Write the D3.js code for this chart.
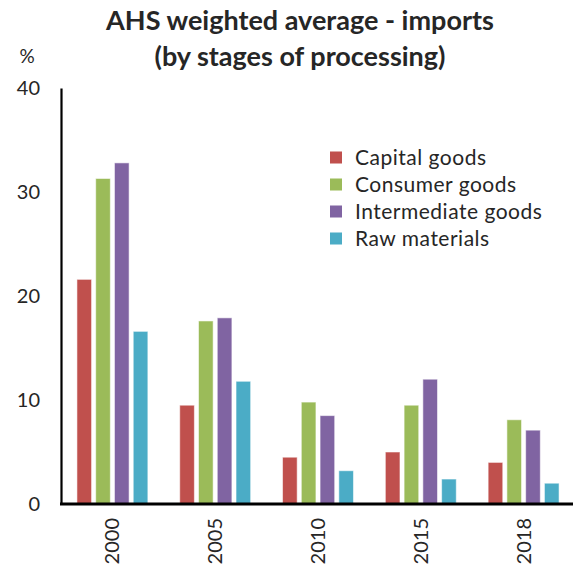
<!DOCTYPE html>
<html>
<head>
<meta charset="utf-8">
<script src="https://cdn.jsdelivr.net/npm/d3@7"></script>
<style>
  html, body { margin: 0; padding: 0; background: #fff; }
  svg { display: block; }
  text { font-family: Lato, "Open Sans", sans-serif; fill: #262626; }
</style>
</head>
<body>
<svg id="chart" width="573" height="571"></svg>
<script>
// Average applied tariff (weighted), imports by stage of processing, %
const years = ["2000", "2005", "2010", "2015", "2018"];
const seriesNames = ["Capital goods", "Consumer goods", "Intermediate goods", "Raw materials"];
const capitalGoods      = [21.6, 9.5, 4.5, 5.0, 4.0];
const consumerGoods     = [31.3, 17.6, 9.8, 9.5, 8.1];
const intermediateGoods = [32.8, 17.9, 8.5, 12.0, 7.1];
const rawMaterials      = [16.6, 11.8, 3.2, 2.4, 2.0];
const yTicks = [0, 10, 20, 30, 40];
const colors = ["#C0504D", "#9BBB59", "#8064A2", "#4BACC6"];

const seriesValues = [capitalGoods, consumerGoods, intermediateGoods, rawMaterials];
const rows = years.map((y, i) => ({
  year: y,
  values: seriesNames.map((s, k) => ({ key: s, value: seriesValues[k][i] }))
}));

const svg = d3.select("#chart");
const margin = { left: 61, right: -2, top: 88, bottom: 67 };
const W = 573, H = 571;

const x0 = d3.scaleBand().domain(years)
  .range([margin.left, W - margin.right]).paddingInner(0.31).paddingOuter(0.155);
const x1 = d3.scaleBand().domain(seriesNames)
  .range([0, x0.bandwidth()]).paddingInner(0.22);
const y = d3.scaleLinear().domain([0, 40]).range([H - margin.bottom, margin.top]);

// bars
const groups = svg.append("g").selectAll("g").data(rows).join("g")
  .attr("transform", d => `translate(${x0(d.year)},0)`);
groups.selectAll("rect").data(d => d.values).join("rect")
  .attr("x", d => x1(d.key))
  .attr("width", x1.bandwidth())
  .attr("y", d => y(d.value))
  .attr("height", d => y(0) - y(d.value))
  .attr("fill", (d, i) => colors[i])
  .attr("stroke", "#ffffff")
  .attr("stroke-opacity", 0.55)
  .attr("stroke-width", 1);

// y axis
const yAxis = d3.axisLeft(y).tickValues(yTicks).tickSize(0).tickPadding(21);
const gy = svg.append("g").attr("transform", `translate(${margin.left},0)`).call(yAxis);
gy.select(".domain").attr("stroke", "#000").attr("stroke-width", 2.2);
gy.selectAll(".tick text").attr("font-size", 20).attr("font-family", "Lato, sans-serif").attr("fill", "#262626");

// x axis
const xAxis = d3.axisBottom(x0).tickSize(0).tickPadding(0);
const gx = svg.append("g").attr("transform", `translate(0,${y(0)})`).call(xAxis);
gx.select(".domain").attr("stroke", "#000").attr("stroke-width", 3)
  .attr("d", `M${margin.left - 1},0H${W}`);
gx.selectAll(".tick text")
  .attr("font-size", 20).attr("font-family", "Lato, sans-serif").attr("fill", "#262626")
  .attr("transform", "rotate(-90)")
  .attr("text-anchor", "end")
  .attr("x", -14).attr("y", 0).attr("dy", "0.35em");

// unit label
svg.append("text").attr("x", 27).attr("y", 63).attr("text-anchor", "middle")
  .attr("font-size", 19).text("%");

// title
const title = svg.append("text").attr("text-anchor", "middle")
  .attr("font-size", 27).attr("font-weight", "bold").attr("fill", "#000");
title.append("tspan").attr("x", 300).attr("y", 30).text("AHS weighted average - imports");
title.append("tspan").attr("x", 300).attr("y", 66).text("(by stages of processing)");

// legend
const legend = svg.append("g").attr("transform", "translate(330,157.5)");
const li = legend.selectAll("g").data(seriesNames).join("g")
  .attr("transform", (d, i) => `translate(0,${i * 27})`);
li.append("rect").attr("x", 0).attr("y", -6).attr("width", 12).attr("height", 12)
  .attr("fill", (d, i) => colors[i]);
li.append("text").attr("x", 25).attr("y", 0).attr("dy", "0.36em")
  .attr("font-size", 21).attr("letter-spacing", 0.5).text(d => d);
</script>
</body>
</html>
